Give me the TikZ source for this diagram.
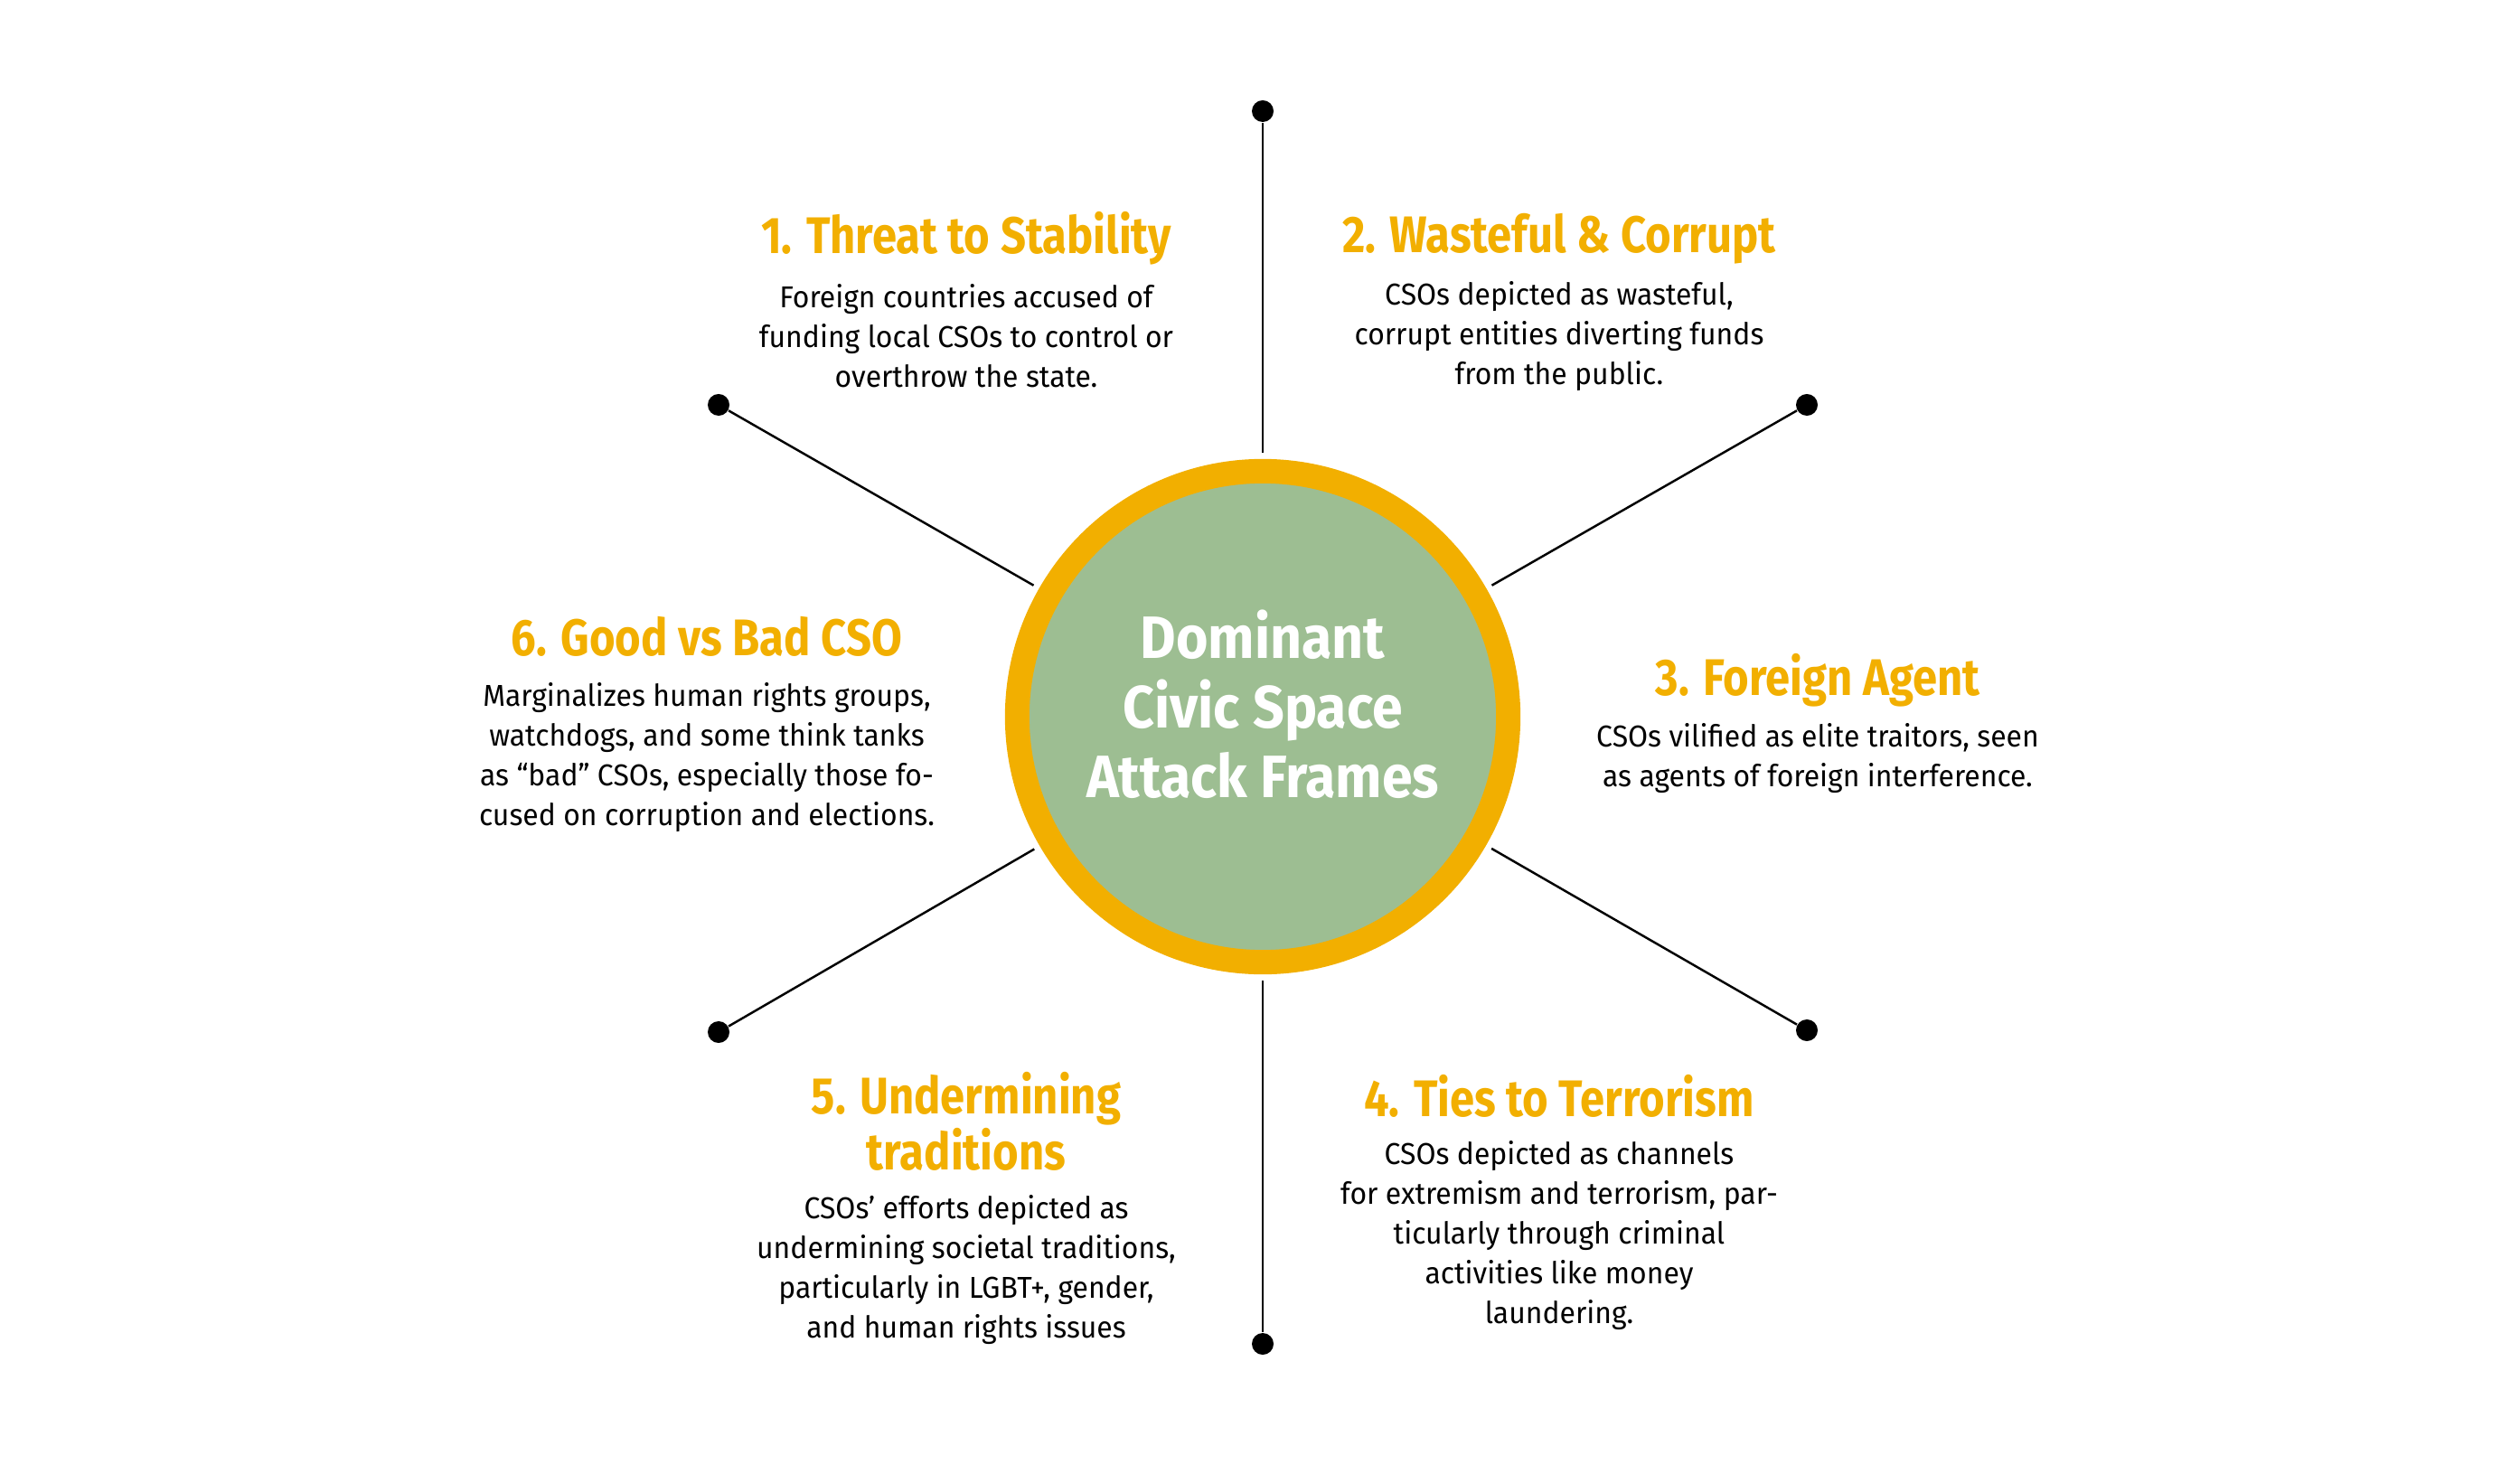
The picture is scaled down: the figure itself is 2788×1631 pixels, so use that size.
\documentclass[tikz,border=0pt]{standalone}
\usepackage{fontspec}
\setmainfont{Fira Sans}[FakeStretch=0.86]
\newfontfamily\descfont{Fira Sans}[FakeStretch=0.955]
\newfontfamily\hubfont{Fira Sans}[FakeStretch=0.92]
\usetikzlibrary{positioning}
\definecolor{frameGold}{HTML}{F2AF00}
\definecolor{frameGreen}{HTML}{9DBE92}

\begin{document}
\begin{tikzpicture}[
    x=0.01cm, y=-0.01cm,
    hub/.style={circle, fill=frameGreen, draw=frameGold, line width=0.27cm, minimum size=5.43cm, inner sep=0pt},
    hubtext/.style={text=white, align=center, font=\hubfont\fontsize{18.8}{21.9}\selectfont\bfseries},
    dot/.style={circle, fill=black, minimum size=0.24cm, inner sep=0pt},
    spoke/.style={line width=0.7pt, shorten <=0.07cm},
    head/.style={text=frameGold, align=center, font=\fontsize{16.2}{16.2}\selectfont\bfseries},
    desc/.style={align=center, font=\descfont\fontsize{9.5}{12.5}\selectfont}
]
\useasboundingbox (0,0) rectangle (2788,1631);

% --- Centre circle ---
\node[hub] (hub) at (1397,793) {};
\node[hubtext] (hubtitle) at (1397,779) {Dominant\\Civic Space\\Attack Frames};

% --- End dots ---
\foreach \i/\px/\py in {1/1397/123, 2/1999/448, 3/1999/1140, 4/1397/1487, 5/795/1142, 6/795/448}
    \node[dot] (d\i) at (\px,\py) {};

% --- Spokes ---
\foreach \i in {1,...,6}
    \draw[spoke] (hub) -- (d\i);

% --- 1. Threat to Stability ---
\node[head] (t1) at (1069,264) {1. Threat to Stability};
\node[desc] (b1) at (1069,372) {Foreign countries accused of\\funding local CSOs to control or\\overthrow the state.};

% --- 2. Wasteful & Corrupt ---
\node[head] (t2) at (1725,264) {2. Wasteful \& Corrupt};
\node[desc] (b2) at (1725,372) {CSOs depicted as wasteful,\\corrupt entities diverting funds\\from the public.};

% --- 3. Foreign Agent ---
\node[head] (t3) at (2011,753) {3. Foreign Agent};
\node[desc] (b3) at (2011,839) {CSOs vilified as elite traitors, seen\\as agents of foreign interference.};

% --- 4. Ties to Terrorism ---
\node[head] (t4) at (1725,1213) {4. Ties to Terrorism};
\node[desc] (b4) at (1725,1367) {CSOs depicted as channels\\for extremism and terrorism, par-\\ticularly through criminal\\activities like money\\laundering.};

% --- 5. Undermining traditions ---
\node[head] (t5) at (1069,1241) {5. Undermining\\traditions};
\node[desc] (b5) at (1069,1405) {CSOs’ efforts depicted as\\undermining societal traditions,\\particularly in LGBT+, gender,\\and human rights issues};

% --- 6. Good vs Bad CSO ---
\node[head] (t6) at (782,704) {6. Good vs Bad CSO};
\node[desc] (b6) at (782,838) {Marginalizes human rights groups,\\watchdogs, and some think tanks\\as “bad” CSOs, especially those fo-\\cused on corruption and elections.};

\end{tikzpicture}
\end{document}
